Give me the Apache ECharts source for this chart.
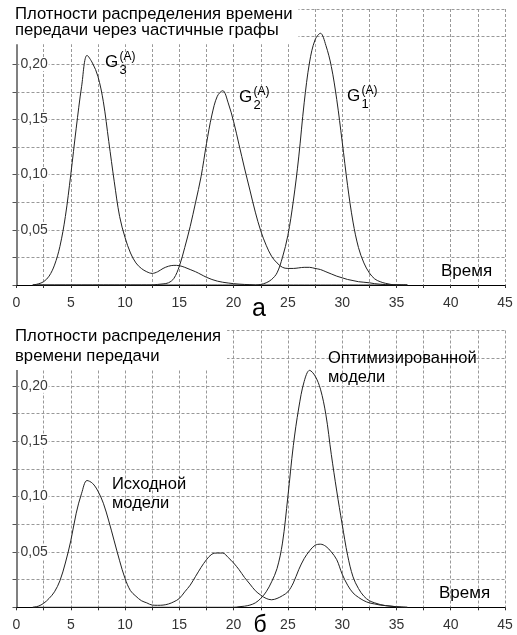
<!DOCTYPE html>
<html>
<head>
<meta charset="utf-8">
<script src="https://cdn.jsdelivr.net/npm/echarts@6/dist/echarts.min.js"></script>
<style>
  html, body { margin: 0; padding: 0; background: #fff; }
  #main { width: 517px; height: 635px; }
</style>
</head>
<body>
<div id="main"></div>
<script>
// время, шаг 0.5
const time = [
  1.5, 2, 2.5, 3, 3.5, 4, 4.5, 5, 5.5, 6,
  6.5, 7, 7.5, 8, 8.5, 9, 9.5, 10, 10.5, 11,
  11.5, 12, 12.5, 13, 13.5, 14, 14.5, 15, 15.5, 16,
  16.5, 17, 17.5, 18, 18.5, 19, 19.5, 20, 20.5, 21,
  21.5, 22, 22.5, 23, 23.5, 24, 24.5, 25, 25.5, 26,
  26.5, 27, 27.5, 28, 28.5, 29, 29.5, 30, 30.5, 31,
  31.5, 32, 32.5, 33, 33.5, 34, 34.5, 35, 35.5, 36
]

// (а) частичные графы
const g3 = [
  0, 0.001, 0.003, 0.008, 0.018, 0.035, 0.062, 0.100, 0.142, 0.180,
  0.208, 0.201, 0.189, 0.166, 0.130, 0.094, 0.062, 0.043, 0.029, 0.020,
  0.015, 0.012, 0.0105, 0.012, 0.015, 0.017, 0.0178, 0.0175, 0.016, 0.014,
  0.012, 0.0095, 0.007, 0.005, 0.0035, 0.0025, 0.0018, 0.0012, 0.0008, 0.0005,
  0.0003, 0, 0, 0, 0, 0, 0, 0, 0, 0,
  0, 0, 0, 0, 0, 0, 0, 0, 0, 0,
  0, 0, 0, 0, 0, 0, 0, 0, 0, 0
]
const g2 = [
  0, 0, 0, 0, 0, 0, 0, 0, 0, 0,
  0, 0, 0, 0, 0, 0, 0, 0, 0, 0,
  0, 0, 0, 0.0005, 0.001, 0.002, 0.006, 0.017, 0.034, 0.053,
  0.075, 0.098, 0.128, 0.154, 0.171, 0.176, 0.165, 0.148, 0.127, 0.106,
  0.086, 0.066, 0.049, 0.036, 0.026, 0.020, 0.016, 0.015, 0.015, 0.0155,
  0.016, 0.016, 0.015, 0.014, 0.012, 0.010, 0.008, 0.0065, 0.005, 0.004,
  0.003, 0.0025, 0.002, 0.0012, 0.0007, 0.0004, 0.0002, 0, 0, 0
]
const g1 = [
  0, 0, 0, 0, 0, 0, 0, 0, 0, 0,
  0, 0, 0, 0, 0, 0, 0, 0, 0, 0,
  0, 0, 0, 0, 0, 0, 0, 0, 0, 0,
  0, 0, 0, 0, 0, 0, 0, 0, 0, 0,
  0, 0, 0.0005, 0.002, 0.005, 0.011, 0.025, 0.045, 0.076, 0.116,
  0.165, 0.202, 0.222, 0.228, 0.217, 0.198, 0.168, 0.130, 0.090, 0.057,
  0.034, 0.020, 0.011, 0.0055, 0.003, 0.0015, 0.0005, 0.0002, 0, 0
]

// (б) исходная и оптимизированная модели
const original = [
  0, 0.001, 0.0036, 0.008, 0.014, 0.024, 0.040, 0.060, 0.085, 0.103,
  0.1145, 0.112, 0.105, 0.094, 0.078, 0.060, 0.042, 0.026, 0.015, 0.010,
  0.006, 0.004, 0.002, 0.0018, 0.002, 0.003, 0.005, 0.008, 0.014, 0.020,
  0.028, 0.036, 0.043, 0.048, 0.049, 0.049, 0.045, 0.040, 0.034, 0.027,
  0.021, 0.015, 0.011, 0.008, 0.0068, 0.008, 0.0105, 0.014, 0.022, 0.034,
  0.044, 0.051, 0.056, 0.057, 0.055, 0.050, 0.043, 0.030, 0.020, 0.013,
  0.009, 0.006, 0.004, 0.003, 0.002, 0.0015, 0.001, 0.0005, 0.0002, 0
]
const optimized = [
  0, 0, 0, 0, 0, 0, 0, 0, 0, 0,
  0, 0, 0, 0, 0, 0, 0, 0, 0, 0,
  0, 0, 0, 0, 0, 0, 0, 0, 0, 0,
  0, 0, 0, 0, 0, 0, 0, 0, 0.0005, 0.001,
  0.002, 0.004, 0.008, 0.014, 0.023, 0.035, 0.058, 0.100, 0.146, 0.180,
  0.204, 0.214, 0.209, 0.197, 0.174, 0.138, 0.105, 0.075, 0.047, 0.0275,
  0.017, 0.010, 0.006, 0.004, 0.0025, 0.0015, 0.001, 0.0005, 0.0002, 0
]

const FONT = '"Liberation Sans", Arial, sans-serif'
const zip = (ys) => time.map((t, i) => [t, ys[i]])

function xAxisFor(idx) {
  return {
    type: 'value', gridIndex: idx, min: 0, max: 45, interval: 2.5,
    axisLine: { onZero: false, lineStyle: { color: '#000', width: 1 } },
    axisTick: { length: 3, lineStyle: { color: '#333' } },
    axisLabel: {
      margin: 11, color: '#333', fontSize: 14, fontFamily: FONT,
      formatter: (v) => (Math.round(v * 10) % 50 === 0 ? String(v) : '')
    },
    splitLine: { show: true, lineStyle: { color: '#999', type: [3, 2] } }
  }
}

function yAxisFor(idx) {
  return {
    type: 'value', gridIndex: idx, min: 0, max: 0.25, interval: 0.025,
    axisLine: { show: true, lineStyle: { color: '#808080', width: 2 } },
    axisTick: { show: true, length: 4, lineStyle: { color: '#555' } },
    axisLabel: {
      inside: true, margin: 3, color: '#3a3a3a', fontSize: 14, fontFamily: FONT,
      backgroundColor: '#fff', padding: [0, 1],
      formatter: (v) => {
        const m = Math.round(v * 1000)
        if (m === 0 || m > 200 || m % 50 !== 0) return ''
        return v.toFixed(2).replace('.', ',')
      }
    },
    splitLine: { show: true, lineStyle: { color: '#999', type: [3, 2] } }
  }
}

function line(name, ys, idx) {
  return {
    name, type: 'line', xAxisIndex: idx, yAxisIndex: idx,
    data: zip(ys), smooth: 0.35, showSymbol: false,
    lineStyle: { color: '#222', width: 1 }
  }
}

function txt(x, y, text, size, extra) {
  return {
    type: 'text', x, y, z: 100,
    style: Object.assign({
      text, font: size + 'px ' + FONT, fill: '#000',
      align: 'left', verticalAlign: 'middle'
    }, extra || {})
  }
}

// G с индексами: G_n^(A)
function gLabel(x, y, n) {
  return [
    txt(x, y, 'G', 17),
    txt(x + 14.5, y - 6, '(A)', 12),
    txt(x + 14.5, y + 8, n, 13)
  ]
}

const myChart = echarts.init(document.getElementById('main'))
myChart.setOption({
  animation: false,
  backgroundColor: '#fff',
  title: [
    {
      text: 'Плотности распределения времени\nпередачи через частичные графы',
      left: 10, top: 2, padding: [4, 6, 5, 5],
      backgroundColor: '#fff',
      textStyle: { fontSize: 16.7, lineHeight: 16.5, fontWeight: 'normal', color: '#000', fontFamily: FONT }
    },
    {
      text: 'Плотности распределения\nвремени передачи',
      left: 10, top: 322, padding: [4, 6, 4, 5],
      backgroundColor: '#fff',
      textStyle: { fontSize: 16.7, lineHeight: 20, fontWeight: 'normal', color: '#000', fontFamily: FONT }
    }
  ],
  grid: [
    { left: 16.5, right: 12, top: 9, bottom: 350 },
    { left: 16.5, right: 12, top: 330.5, bottom: 27.7 }
  ],
  xAxis: [xAxisFor(0), xAxisFor(1)],
  yAxis: [yAxisFor(0), yAxisFor(1)],
  series: [
    line('G3', g3, 0),
    line('G2', g2, 0),
    line('G1', g1, 0),
    line('Исходной модели', original, 1),
    line('Оптимизированной модели', optimized, 1)
  ],
  graphic: [
    ...gLabel(105, 62.5, '3'),
    ...gLabel(239, 97.5, '2'),
    ...gLabel(347, 96.5, '1'),
    txt(441, 271, 'Время', 17),
    txt(439, 593, 'Время', 17),
    txt(112, 484, 'Исходной', 16.5),
    txt(112, 503, 'модели', 16.5),
    txt(328, 358, 'Оптимизированной', 16.5),
    txt(328, 377, 'модели', 16.5),
    txt(259, 309, 'а', 25, { align: 'center' }),
    txt(260, 626, 'б', 23, { align: 'center' })
  ]
})
</script>
</body>
</html>
